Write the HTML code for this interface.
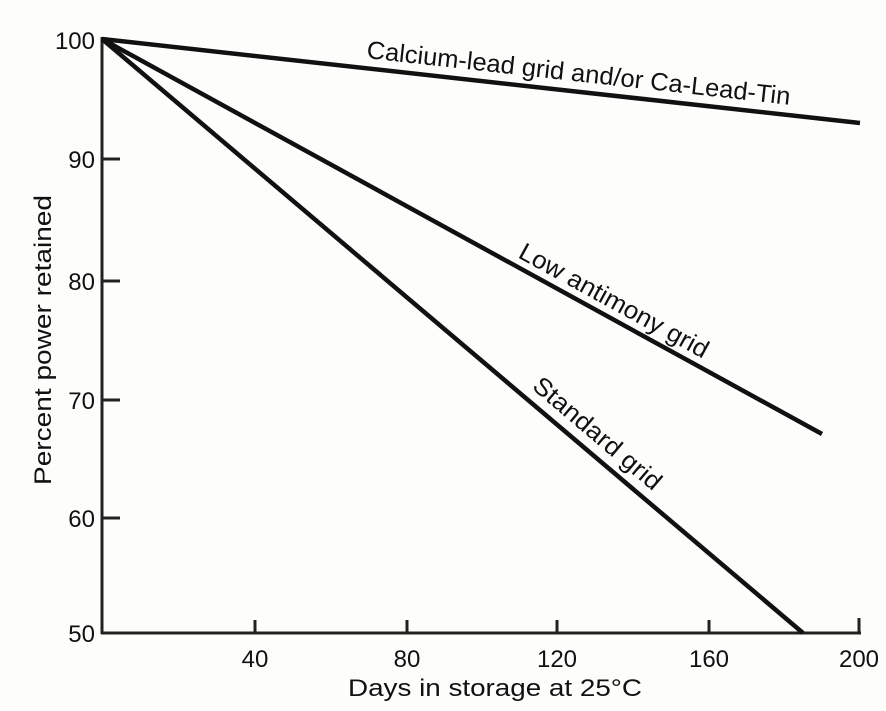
<!DOCTYPE html>
<html><head><meta charset="utf-8"><style>body{margin:0;background:#fdfdfc}</style></head><body>
<svg width="886" height="706" xmlns="http://www.w3.org/2000/svg" font-family="Liberation Sans, sans-serif" fill="#111">
<rect width="886" height="706" fill="#fdfdfc"/>
<g stroke="#222" stroke-width="3" fill="none">
<line x1="102" y1="37" x2="102" y2="634"/>
<line x1="101" y1="633" x2="861" y2="633"/>
<line x1="102" y1="159" x2="120" y2="159"/>
<line x1="102" y1="281" x2="120" y2="281"/>
<line x1="102" y1="400" x2="120" y2="400"/>
<line x1="102" y1="518" x2="120" y2="518"/>
<line x1="255" y1="633" x2="255" y2="620"/>
<line x1="407" y1="633" x2="407" y2="620"/>
<line x1="557" y1="633" x2="557" y2="620"/>
<line x1="709" y1="633" x2="709" y2="620"/>
<line x1="859" y1="633" x2="859" y2="618"/>
</g>
<g stroke="#111" stroke-width="4.5" fill="none">
<line x1="102" y1="39" x2="860" y2="123"/>
<line x1="102" y1="39" x2="822" y2="434"/>
<line x1="102" y1="39" x2="803" y2="633"/>
</g>
<g font-size="24" text-anchor="end">
<text x="95" y="49">100</text><text x="95" y="168">90</text><text x="95" y="290">80</text>
<text x="95" y="409">70</text><text x="95" y="527">60</text><text x="95" y="642">50</text>
</g>
<g font-size="24" text-anchor="middle">
<text x="255" y="667">40</text><text x="407" y="667">80</text><text x="557" y="667">120</text>
<text x="709" y="667">160</text><text x="859" y="667">200</text>
</g>
<text x="348" y="696" font-size="24" textLength="294" lengthAdjust="spacingAndGlyphs">Days in storage at 25°C</text>
<text transform="translate(51,485) rotate(-90)" font-size="24" textLength="290" lengthAdjust="spacingAndGlyphs">Percent  power retained</text>
<text transform="translate(366,58) rotate(6.3)" font-size="25" textLength="426" lengthAdjust="spacingAndGlyphs">Calcium-lead grid and/or Ca-Lead-Tin</text>
<text transform="translate(517,257) rotate(28.7)" font-size="25" textLength="212" lengthAdjust="spacingAndGlyphs">Low antimony grid</text>
<text transform="translate(531,388) rotate(40.3)" font-size="25" textLength="160" lengthAdjust="spacingAndGlyphs">Standard grid</text>
</svg>
</body></html>
